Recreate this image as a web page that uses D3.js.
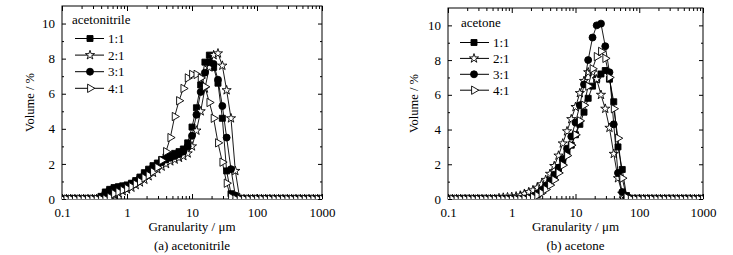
<!DOCTYPE html>
<html>
<head>
<meta charset="utf-8">
<script src="https://cdn.jsdelivr.net/npm/d3@7"></script>
<style>
  body { margin: 0; background: #fff; }
  svg text { font-family: 'Liberation Serif', 'DejaVu Serif', serif; fill: #000; }
</style>
</head>
<body>
<svg id="chart" width="733" height="255"></svg>
<script>
// granularity bins (um), shared by all series
const sizes = [0.1, 0.117, 0.136, 0.158, 0.185, 0.215, 0.251, 0.293, 0.341, 0.398,
  0.464, 0.541, 0.631, 0.736, 0.858, 1.0, 1.17, 1.36, 1.58, 1.85,
  2.15, 2.51, 2.93, 3.41, 3.98, 4.64, 5.41, 6.31, 7.36, 8.58,
  10.0, 11.7, 13.6, 15.8, 18.5, 21.5, 25.1, 29.3, 34.1, 39.8,
  46.4, 54.1, 63.1, 73.6, 85.8, 100, 117, 136, 158, 185,
  215, 251, 293, 341, 398, 464, 541, 631, 736, 858, 1000]

const ratios = ['1:1', '2:1', '3:1', '4:1']

// (a) acetonitrile, volume %
const acn11 = [0, 0, 0, 0, 0, 0, 0, 0, 0, 0.15,
  0.4, 0.55, 0.65, 0.7, 0.75, 0.8, 0.9, 1.05, 1.25, 1.5,
  1.7, 1.9, 2.05, 2.25, 2.4, 2.5, 2.6, 2.7, 2.85, 3.2,
  4.1, 5.2, 6.5, 7.8, 8.2, 7.5, 6.6, 4.6, 1.6, 0.3,
  0, 0, 0, 0, 0, 0, 0, 0, 0, 0,
  0, 0, 0, 0, 0, 0, 0, 0, 0, 0, 0]
const acn21 = [0, 0, 0, 0, 0, 0, 0, 0, 0, 0,
  0, 0.1, 0.25, 0.35, 0.45, 0.55, 0.65, 0.8, 0.95, 1.1,
  1.3, 1.5, 1.7, 1.85, 2.0, 2.15, 2.25, 2.35, 2.45, 2.6,
  3.0, 3.9, 5.0, 6.3, 7.5, 8.2, 8.3, 7.6, 6.2, 4.6,
  1.6, 0.05, 0, 0, 0, 0, 0, 0, 0, 0,
  0, 0, 0, 0, 0, 0, 0, 0, 0, 0, 0]
const acn31 = [0, 0, 0, 0, 0, 0, 0, 0, 0, 0.1,
  0.35, 0.5, 0.6, 0.65, 0.7, 0.75, 0.85, 1.0, 1.2, 1.4,
  1.6, 1.8, 1.95, 2.1, 2.25, 2.35, 2.45, 2.55, 2.7, 3.0,
  3.6, 4.8, 6.1, 7.2, 7.8, 7.7, 6.8, 5.3, 3.5, 1.7,
  0.2, 0, 0, 0, 0, 0, 0, 0, 0, 0,
  0, 0, 0, 0, 0, 0, 0, 0, 0, 0, 0]
const acn41 = [0, 0, 0, 0, 0, 0, 0, 0, 0, 0,
  0, 0.1, 0.3, 0.4, 0.5, 0.6, 0.7, 0.85, 1.0, 1.2,
  1.35, 1.55, 1.8, 2.2, 2.7, 3.5, 4.7, 5.6, 6.3, 6.9,
  7.1, 7.1, 6.9, 6.4, 5.5, 4.6, 3.2, 2.1, 0.9, 0.1,
  0, 0, 0, 0, 0, 0, 0, 0, 0, 0,
  0, 0, 0, 0, 0, 0, 0, 0, 0, 0, 0]

// (b) acetone, volume %
const ace11 = [0, 0, 0, 0, 0, 0, 0, 0, 0, 0,
  0, 0, 0, 0, 0, 0, 0, 0, 0, 0.03,
  0.1, 0.25, 0.45, 0.65, 0.95, 1.3, 1.7, 2.1, 2.6, 3.1,
  3.7, 4.3, 5.0, 5.8, 6.5, 6.9, 7.2, 7.4, 6.9, 5.6,
  3.0, 1.7, 0.2, 0, 0, 0, 0, 0, 0, 0,
  0, 0, 0, 0, 0, 0, 0, 0, 0, 0, 0]
const ace21 = [0, 0, 0, 0, 0, 0, 0, 0, 0, 0,
  0, 0, 0.05, 0.08, 0.1, 0.12, 0.15, 0.2, 0.3, 0.4,
  0.5, 0.65, 0.85, 1.1, 1.45, 1.9, 2.5, 3.2, 3.9, 4.6,
  5.3, 6.1, 6.8, 7.3, 7.3, 6.9, 6.0, 5.2, 4.1, 2.6,
  1.2, 0.3, 0, 0, 0, 0, 0, 0, 0, 0,
  0, 0, 0, 0, 0, 0, 0, 0, 0, 0, 0]
const ace31 = [0, 0, 0, 0, 0, 0, 0, 0, 0, 0,
  0, 0, 0, 0, 0, 0, 0, 0, 0.02, 0.05,
  0.15, 0.3, 0.5, 0.75, 1.05, 1.4, 1.8, 2.3, 2.9, 3.6,
  4.4, 5.4, 6.6, 8.0, 9.3, 10.0, 10.1, 8.8, 7.3, 4.3,
  1.5, 0.4, 0, 0, 0, 0, 0, 0, 0, 0,
  0, 0, 0, 0, 0, 0, 0, 0, 0, 0, 0]
const ace41 = [0, 0, 0, 0, 0, 0, 0, 0, 0, 0,
  0, 0, 0, 0, 0, 0, 0, 0, 0.02, 0.05,
  0.1, 0.2, 0.35, 0.55, 0.8, 1.1, 1.5, 1.95, 2.5, 3.1,
  3.7, 4.5, 5.4, 6.5, 7.5, 8.2, 8.5, 8.1, 7.0, 5.2,
  3.5, 1.2, 0.1, 0, 0, 0, 0, 0, 0, 0,
  0, 0, 0, 0, 0, 0, 0, 0, 0, 0, 0]

const xTicks = [0.1, 1, 10, 100, 1000]
const yTicks = [0, 2, 4, 6, 8, 10]

const svg = d3.select('#chart')

const markers = [
  { type: d3.symbolSquare, size: 36, fill: '#000', rotate: 0 },
  { type: d3.symbolStar, size: 26, fill: '#fff', rotate: 0 },
  { type: d3.symbolCircle, size: 38, fill: '#000', rotate: 0 },
  { type: d3.symbolTriangle, size: 30, fill: '#fff', rotate: 90 }
]

function drawPanel (opts) {
  const { id, left, right, top, bottom, series, legendTitle, legend, caption, yLabelX } = opts

  const x = d3.scaleLog().domain([0.1, 1000]).range([left, right])
  const y = d3.scaleLinear().domain([0, 11]).range([bottom, top])

  const g = svg.append('g')

  svg.append('clipPath').attr('id', 'clip-' + id)
    .append('rect')
    .attr('x', left).attr('y', top)
    .attr('width', right - left).attr('height', bottom - top)

  // minor log ticks
  const minor = []
  for (let d = 0.1; d < 1000; d *= 10) {
    for (let k = 2; k <= 9; k++) minor.push(+(d * k).toPrecision(3))
  }
  const yMinor = [1, 3, 5, 7, 9]

  const axB = g.append('g').attr('transform', `translate(0,${bottom})`)
    .call(d3.axisBottom(x).tickValues(xTicks).tickFormat(d => d3.format('~g')(d)).tickSizeInner(-5).tickSizeOuter(0).tickPadding(9))
  axB.append('g').call(d3.axisBottom(x).tickValues(minor).tickFormat('').tickSizeInner(-3).tickSizeOuter(0))
  const axT = g.append('g').attr('transform', `translate(0,${top})`)
    .call(d3.axisTop(x).tickValues(xTicks).tickFormat('').tickSizeInner(-5).tickSizeOuter(0))
  axT.append('g').call(d3.axisTop(x).tickValues(minor).tickFormat('').tickSizeInner(-3).tickSizeOuter(0))

  const axL = g.append('g').attr('transform', `translate(${left},0)`)
    .call(d3.axisLeft(y).tickValues(yTicks).tickSizeInner(-4).tickSizeOuter(0).tickPadding(7))
  axL.append('g').call(d3.axisLeft(y).tickValues(yMinor).tickFormat('').tickSizeInner(-2).tickSizeOuter(0))
  const axR = g.append('g').attr('transform', `translate(${right},0)`)
    .call(d3.axisRight(y).tickValues(yTicks).tickFormat('').tickSizeInner(-4).tickSizeOuter(0))
  axR.append('g').call(d3.axisRight(y).tickValues(yMinor).tickFormat('').tickSizeInner(-2).tickSizeOuter(0))

  g.selectAll('.domain').remove()
  g.selectAll('.tick line').attr('stroke', '#000')
  g.selectAll('.tick text').attr('font-size', 13).attr('font-family', 'Liberation Serif')

  g.append('rect')
    .attr('x', left).attr('y', top)
    .attr('width', right - left).attr('height', bottom - top)
    .attr('fill', 'none').attr('stroke', '#000').attr('stroke-width', 1)

  const plot = g.append('g').attr('clip-path', `url(#clip-${id})`)
  const line = d3.line().x((d, i) => x(sizes[i])).y(d => y(d))

  series.forEach((vals, s) => {
    const m = markers[s]
    plot.append('path')
      .datum(vals)
      .attr('d', line)
      .attr('fill', 'none')
      .attr('stroke', '#000')
      .attr('stroke-width', 0.9)

    plot.append('g')
      .selectAll('path')
      .data(vals)
      .join('path')
      .attr('d', d3.symbol().type(m.type).size(m.size))
      .attr('transform', (d, i) => `translate(${x(sizes[i])},${y(d)}) rotate(${m.rotate})`)
      .attr('fill', m.fill)
      .attr('stroke', '#000')
      .attr('stroke-width', 0.9)
  })

  // legend
  const lg = g.append('g')
  lg.append('text')
    .attr('x', legend.x).attr('y', legend.titleY)
    .attr('font-size', 13)
    .text(legendTitle)

  ratios.forEach((r, i) => {
    const m = markers[i]
    const cy = legend.rowY + i * legend.step
    lg.append('line')
      .attr('x1', legend.lineX1).attr('x2', legend.lineX2)
      .attr('y1', cy).attr('y2', cy)
      .attr('stroke', '#000')
    lg.append('path')
      .attr('d', d3.symbol().type(m.type).size(m.size)())
      .attr('transform', `translate(${legend.markX},${cy}) rotate(${m.rotate})`)
      .attr('fill', m.fill)
      .attr('stroke', '#000')
      .attr('stroke-width', 0.9)
    lg.append('text')
      .attr('x', legend.textX).attr('y', cy + 4.5)
      .attr('font-size', 13)
      .text(r)
  })

  // titles
  g.append('text')
    .attr('transform', `translate(${yLabelX},${(top + bottom) / 2}) rotate(-90)`)
    .attr('text-anchor', 'middle')
    .attr('font-size', 12.5)
    .text('Volume / %')

  g.append('text')
    .attr('x', (left + right) / 2).attr('y', bottom + 32)
    .attr('text-anchor', 'middle')
    .attr('font-size', 13)
    .text('Granularity / \u03bcm')

  g.append('text')
    .attr('x', (left + right) / 2).attr('y', bottom + 51)
    .attr('text-anchor', 'middle')
    .attr('font-size', 13)
    .text(caption)
}

drawPanel({
  id: 'a',
  left: 62,
  right: 322,
  top: 6,
  bottom: 199,
  series: [acn11, acn21, acn31, acn41],
  legendTitle: 'acetonitrile',
  legend: { x: 72, titleY: 24, rowY: 38.5, step: 16.6, lineX1: 75, lineX2: 104, markX: 90, textX: 108 },
  caption: '(a) acetonitrile',
  yLabelX: 34
})

drawPanel({
  id: 'b',
  left: 448,
  right: 703,
  top: 8,
  bottom: 199,
  series: [ace11, ace21, ace31, ace41],
  legendTitle: 'acetone',
  legend: { x: 461, titleY: 27, rowY: 42.5, step: 15.9, lineX1: 460, lineX2: 489, markX: 474, textX: 493 },
  caption: '(b) acetone',
  yLabelX: 418
})
</script>
</body>
</html>
